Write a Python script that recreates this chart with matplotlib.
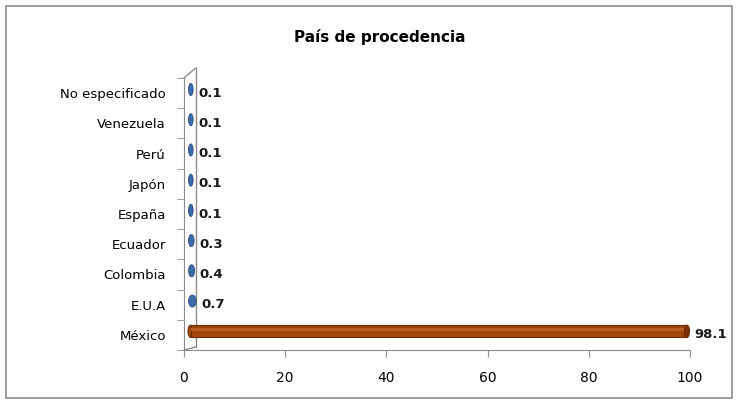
import matplotlib.pyplot as plt
from matplotlib.patches import Ellipse, Rectangle
import numpy as np

# datos (de arriba hacia abajo)
paises = ["No especificado", "Venezuela", "Perú", "Japón", "España",
          "Ecuador", "Colombia", "E.U.A", "México"]
porcentaje = [0.1, 0.1, 0.1, 0.1, 0.1, 0.3, 0.4, 0.7, 98.1]
etiquetas = ["0.1", "0.1", "0.1", "0.1", "0.1", "0.3", "0.4", "0.7", "98.1"]
colores = ["#3F6CA8"] * 8 + ["#9E470C"]
bordes = ["#284C80"] * 8 + ["#6A2C04"]
ticks_x = [0, 20, 40, 60, 80, 100]

plt.rcParams['font.family'] = ['DejaVu Sans']

fig = plt.figure(figsize=(7.38, 4.04), dpi=100)
ax = fig.add_axes([184/738, 1-350/404, 506/738, 272/404])

# marco exterior
fig.patches.append(Rectangle((6/738, 6/404), 726/738, 392/404, transform=fig.transFigure,
                             fill=False, edgecolor="#8C8C8C", linewidth=1.2))

y = np.arange(len(paises))[::-1]
prof = 1.3   # desplazamiento por profundidad 3D
alto = 0.40
for yi, v, c, b, t in zip(y, porcentaje, colores, bordes, etiquetas):
    yc = yi + 0.12
    if v > 5:
        ax.barh(yc, v, left=prof, height=alto, color=c, edgecolor=b, linewidth=0.8, zorder=3)
        ax.barh(yc + 0.06, v, left=prof, height=0.1, color="#B85E22", linewidth=0, zorder=3)
        ax.add_patch(Ellipse((prof, yc), 1.0, alto, facecolor=c, edgecolor=b, lw=0.8, zorder=2))
        ax.add_patch(Ellipse((prof + v, yc), 1.0, alto, facecolor="#7A3306", edgecolor=b, lw=0.8, zorder=4))
    else:
        w = max(0.9, v + 0.8)
        ax.add_patch(Ellipse((prof + v / 2, yc), w, alto, facecolor=c, edgecolor=b, lw=0.6, zorder=3))
    ax.text(prof + v + 1.4, yi, t, va="center", ha="left", fontsize=9.5,
            fontweight="bold", color="#1A1A1A")

ax.set_xlim(0, 100)
ax.set_ylim(-0.5, len(paises) - 0.5)
ax.set_yticks(y)
ax.set_yticklabels(paises, fontsize=9.5)
ax.set_yticks(np.arange(-0.5, len(paises), 1), minor=True)
ax.tick_params(axis="y", which="major", length=0, pad=13)
ax.tick_params(axis="y", which="minor", length=5, color="#8C8C8C")
ax.set_xticks(ticks_x)
ax.set_xticklabels([str(t) for t in ticks_x], fontsize=10)
ax.tick_params(axis="x", length=5, color="#8C8C8C", pad=10)

for s in ["top", "right"]:
    ax.spines[s].set_visible(False)
ax.spines["left"].set_color("#8C8C8C")
ax.spines["bottom"].set_color("#8C8C8C")
ax.patch.set_alpha(0)

# pared 3D
dx, dy = 2.3, 0.33
ytop = len(paises) - 0.5
ax.plot([0, dx], [ytop, ytop + dy], color="#8C8C8C", lw=1, clip_on=False)
ax.plot([dx, dx], [ytop + dy, -0.5 + dy * 0.3], color="#8C8C8C", lw=1, clip_on=False)
ax.plot([0, dx], [-0.5, -0.5 + dy * 0.3], color="#8C8C8C", lw=1, clip_on=False)

fig.text(380/738, 1-37/404, "País de procedencia", ha="center", va="center",
         fontsize=11, fontweight="bold")

fig.savefig("out.png", dpi=100)
